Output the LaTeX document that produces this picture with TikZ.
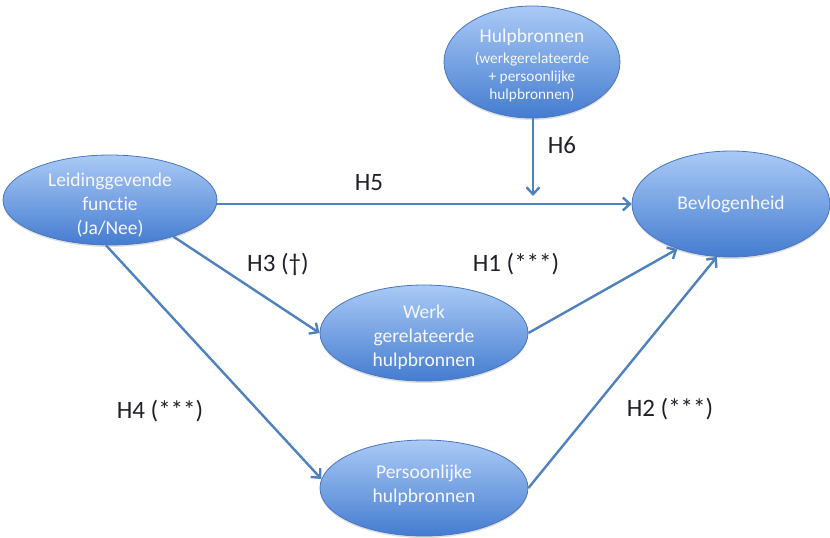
\documentclass[tikz,border=0pt]{standalone}
\usepackage{fontspec}
\setmainfont[Ligatures=NoCommon]{Carlito}
\usetikzlibrary{shapes.geometric,arrows.meta,shadows}
\definecolor{linkblue}{RGB}{79,129,189}
\definecolor{ovaltop}{RGB}{170,202,246}
\definecolor{ovalbot}{RGB}{68,124,208}
\definecolor{ovalrim}{RGB}{74,118,190}
\definecolor{ovaltext}{RGB}{246,246,255}
\definecolor{labeltext}{RGB}{32,32,40}
\tikzset{
  oval/.style={ellipse, draw=ovalrim, line width=0.8pt, top color=ovaltop, bottom color=ovalbot,
    inner sep=0pt,
    drop shadow={shadow xshift=0pt, shadow yshift=-2pt, opacity=0.25}},
  ovaltxt/.style={text=ovaltext, align=center, inner sep=0pt, font=\fontsize{19.5}{24}\selectfont},
  link/.style={draw=linkblue, line width=2.4pt, -{Straight Barb[length=7pt,width=13pt,line width=2.4pt]}},
  hlabel/.style={text=labeltext, font=\fontsize{25}{28}\selectfont}
}
\begin{document}
\begin{tikzpicture}[x=1pt,y=-1pt]
\useasboundingbox (0,0) rectangle (830,538);
% ovals, each with its caption set as a centred label
\node[oval, minimum width=176pt, minimum height=112pt,
  label={[ovaltxt, font=\fontsize{15.3}{18}\selectfont, yshift=-3pt]center:{\fontsize{19.5}{21}\selectfont Hulpbronnen}\\[3pt](werkgerelateerde\\+ persoonlijke\\hulpbronnen)}]
  (res) at (532,62) {};
\node[oval, minimum width=214pt, minimum height=90pt,
  label={[ovaltxt, yshift=-5pt]center:Leidinggevende\\functie\\(Ja/Nee)}]
  (lead) at (110,200) {};
\node[oval, minimum width=198pt, minimum height=106pt,
  label={[ovaltxt]center:Bevlogenheid}]
  (eng) at (731,204) {};
\node[oval, minimum width=208pt, minimum height=96pt,
  label={[ovaltxt, yshift=-4pt]center:Werk\\gerelateerde\\hulpbronnen}]
  (work) at (424,333) {};
\node[oval, minimum width=208pt, minimum height=96pt,
  label={[ovaltxt, yshift=3pt]center:Persoonlijke\\hulpbronnen}]
  (pers) at (424,488) {};
% connectors
\coordinate (meet) at (533,196);
\draw[link] (lead.east |- 0,204) -- (eng.west |- 0,204);
\draw[link] (res.south -| meet) -- (meet);
\draw[link] (lead.-30) -- (work.west);
\draw[link] (lead.-95) -- (pers.175);
\draw[link] (work.east) -- (eng.-140);
\draw[link] (pers.east) -- (eng.-105);
% path labels
\node[hlabel] (l5) at (369,183) {H5};
\node[hlabel] (l6) at (562,145) {H6};
\node[hlabel] (l3) at (278,264) {H3 (†)};
\node[hlabel] (l1) at (516,264) {H1 (***)};
\node[hlabel] (l4) at (160,411) {H4 (***)};
\node[hlabel] (l2) at (670,409) {H2 (***)};
\end{tikzpicture}
\end{document}
